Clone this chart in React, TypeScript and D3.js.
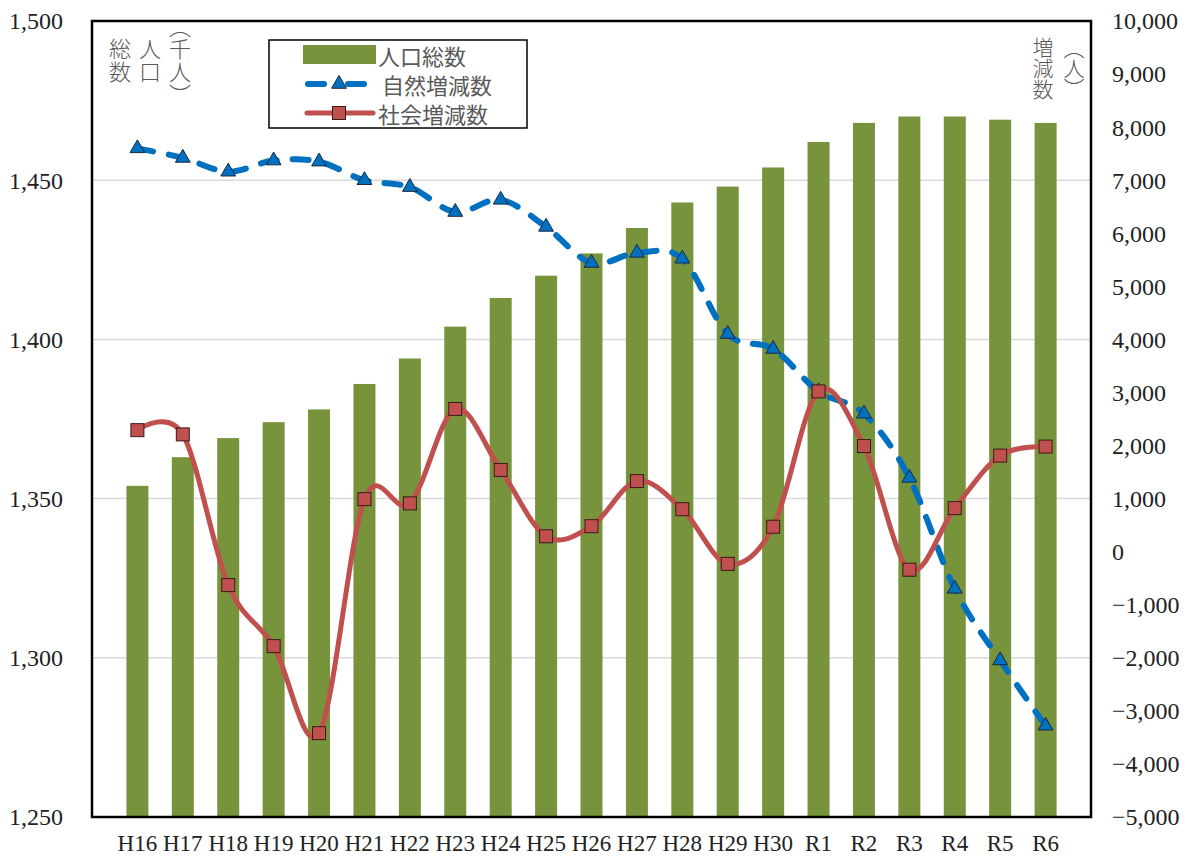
import React, { useRef, useEffect } from 'react';
import * as d3 from 'd3';

const categories = ['H16', 'H17', 'H18', 'H19', 'H20', 'H21', 'H22', 'H23', 'H24', 'H25', 'H26', 'H27', 'H28', 'H29', 'H30', 'R1', 'R2', 'R3', 'R4', 'R5', 'R6'];
// 人口総数 (千人)
const population = [1354, 1363, 1369, 1374, 1378, 1386, 1394, 1404, 1413, 1420, 1427, 1435, 1443, 1448, 1454, 1462, 1468, 1470, 1470, 1469, 1468];
// 自然増減数 (人)
const naturalChange = [7600, 7420, 7160, 7370, 7350, 7000, 6870, 6400, 6630, 6120, 5440, 5630, 5520, 4100, 3820, 3020, 2600, 1390, -700, -2050, -3280];
// 社会増減数 (人)
const socialChange = [2290, 2210, -630, -1780, -3420, 990, 910, 2690, 1540, 290, 480, 1330, 800, -230, 470, 3020, 1990, -340, 820, 1810, 1980];

const leftTicks = [1250, 1300, 1350, 1400, 1450, 1500];
const rightTicks = [-5000, -4000, -3000, -2000, -1000, 0, 1000, 2000, 3000, 4000, 5000, 6000, 7000, 8000, 9000, 10000];

const GREEN = '#77933c';
const BLUE = '#0070c0';
const RED = '#c0504d';
const GRAY_TEXT = '#595959';
const SERIF = '"Liberation Serif", "Times New Roman", serif';
const JP = '"Noto Sans CJK JP", "Noto Sans", sans-serif';

export default function App() {
    const svgRef = useRef<SVGSVGElement>(null);

    useEffect(() => {
        if (!svgRef.current) return;

        const width = 1200;
        const height = 864;
        const plot = { left: 92, right: 1091, top: 21, bottom: 817 };

        const svg = d3.select(svgRef.current)
            .attr('width', width)
            .attr('height', height)
            .attr('viewBox', `0 0 ${width} ${height}`);

        svg.selectAll('*').remove();

        svg.append('rect').attr('width', width).attr('height', height).attr('fill', 'white');

        const x = d3.scalePoint<string>()
            .domain(categories)
            .range([plot.left, plot.right])
            .padding(1);

        const yLeft = d3.scaleLinear().domain([1250, 1500]).range([plot.bottom, plot.top]);
        const yRight = d3.scaleLinear().domain([-5000, 10000]).range([plot.bottom, plot.top]);

        // gridlines
        svg.append('g')
            .selectAll('line')
            .data(leftTicks.slice(1, -1))
            .join('line')
            .attr('x1', plot.left)
            .attr('x2', plot.right)
            .attr('y1', d => yLeft(d))
            .attr('y2', d => yLeft(d))
            .attr('stroke', '#d9d9d9')
            .attr('stroke-width', 1.5);

        // bars
        const barW = 22;
        svg.append('g')
            .selectAll('rect')
            .data(population)
            .join('rect')
            .attr('x', (_, i) => (x(categories[i]) as number) - barW / 2)
            .attr('y', d => yLeft(d))
            .attr('width', barW)
            .attr('height', d => plot.bottom - yLeft(d))
            .attr('fill', GREEN);

        const line = d3.line<number>()
            .x((_, i) => x(categories[i]) as number)
            .y(d => yRight(d))
            .curve(d3.curveCardinal.tension(0));

        // 自然増減数
        svg.append('path')
            .datum(naturalChange)
            .attr('fill', 'none')
            .attr('stroke', BLUE)
            .attr('stroke-width', 6)
            .attr('stroke-linecap', 'round')
            .attr('stroke-dasharray', '16 16')
            .attr('d', line);

        const tri = d3.symbol().type(d3.symbolTriangle).size(95);
        svg.append('g')
            .selectAll('path')
            .data(naturalChange)
            .join('path')
            .attr('transform', (d, i) => `translate(${x(categories[i])},${yRight(d)})`)
            .attr('d', tri as any)
            .attr('fill', BLUE)
            .attr('stroke', '#1a2a40')
            .attr('stroke-width', 1);

        // 社会増減数
        svg.append('path')
            .datum(socialChange)
            .attr('fill', 'none')
            .attr('stroke', RED)
            .attr('stroke-width', 5)
            .attr('stroke-linecap', 'round')
            .attr('d', line);

        const sq = 13;
        svg.append('g')
            .selectAll('rect')
            .data(socialChange)
            .join('rect')
            .attr('x', (_, i) => (x(categories[i]) as number) - sq / 2)
            .attr('y', d => yRight(d) - sq / 2)
            .attr('width', sq)
            .attr('height', sq)
            .attr('fill', RED)
            .attr('stroke', '#3a1a1a')
            .attr('stroke-width', 1);

        // plot frame
        svg.append('rect')
            .attr('x', plot.left)
            .attr('y', plot.top)
            .attr('width', plot.right - plot.left)
            .attr('height', plot.bottom - plot.top)
            .attr('fill', 'none')
            .attr('stroke', 'black')
            .attr('stroke-width', 2.5);

        // axis labels
        const fmt = d3.format(',');
        svg.append('g')
            .selectAll('text')
            .data(leftTicks)
            .join('text')
            .attr('x', 63)
            .attr('y', d => yLeft(d))
            .attr('dy', '0.35em')
            .attr('text-anchor', 'end')
            .attr('font-family', SERIF)
            .attr('font-size', 24)
            .attr('fill', '#222')
            .text(d => fmt(d));

        svg.append('g')
            .selectAll('text')
            .data(rightTicks)
            .join('text')
            .attr('x', 1112)
            .attr('y', d => yRight(d))
            .attr('dy', '0.35em')
            .attr('text-anchor', 'start')
            .attr('font-family', SERIF)
            .attr('font-size', 24)
            .attr('fill', '#222')
            .text(d => fmt(d));

        svg.append('g')
            .selectAll('text')
            .data(categories)
            .join('text')
            .attr('x', d => x(d) as number)
            .attr('y', 843)
            .attr('dy', '0.35em')
            .attr('text-anchor', 'middle')
            .attr('font-family', SERIF)
            .attr('font-size', 23)
            .attr('fill', '#222')
            .text(d => d);

        // vertical axis titles
        const vtext = (cx: number, top: number, size: number, spacing: number, t: string) => {
            svg.append('text')
                .attr('x', cx)
                .attr('y', top)
                .attr('font-family', JP)
                .attr('font-size', size)
                .attr('font-weight', 300)
                .attr('fill', GRAY_TEXT)
                .style('writing-mode', 'vertical-rl')
                .style('font-feature-settings', '"vpal"')
                .style('letter-spacing', `${spacing}px`)
                .text(t);
        };
        vtext(120, 38, 22, 1, '総数');
        vtext(150, 38, 22, 1, '人口');
        vtext(180, 26, 22, 1, '（千人）');
        vtext(1043, 37, 21, 0, '増減数');
        vtext(1074, 47, 21, 0, '（人）');

        // legend
        const lg = svg.append('g');
        lg.append('rect')
            .attr('x', 269).attr('y', 40)
            .attr('width', 258).attr('height', 88)
            .attr('fill', 'white')
            .attr('stroke', 'black')
            .attr('stroke-width', 1.5);
        lg.append('rect')
            .attr('x', 303).attr('y', 45)
            .attr('width', 73).attr('height', 19)
            .attr('fill', GREEN);
        lg.append('line')
            .attr('x1', 308).attr('x2', 364).attr('y1', 84).attr('y2', 84)
            .attr('stroke', BLUE).attr('stroke-width', 6)
            .attr('stroke-linecap', 'round')
            .attr('stroke-dasharray', '16 24');
        lg.append('path')
            .attr('transform', 'translate(339,84)')
            .attr('d', tri as any)
            .attr('fill', BLUE)
            .attr('stroke', '#1a2a40')
            .attr('stroke-width', 1);
        lg.append('line')
            .attr('x1', 307).attr('x2', 373).attr('y1', 113).attr('y2', 113)
            .attr('stroke', RED).attr('stroke-width', 5)
            .attr('stroke-linecap', 'round');
        lg.append('rect')
            .attr('x', 339 - sq / 2).attr('y', 113 - sq / 2)
            .attr('width', sq).attr('height', sq)
            .attr('fill', RED)
            .attr('stroke', '#3a1a1a')
            .attr('stroke-width', 1);

        const legendLabels = ['人口総数', '自然増減数', '社会増減数'];
        const legendX = [378, 382, 378];
        const legendY = [55, 84, 113];
        legendLabels.forEach((t, i) => {
            lg.append('text')
                .attr('x', legendX[i])
                .attr('y', legendY[i])
                .attr('dominant-baseline', 'central')
                .attr('font-family', JP)
                .attr('font-size', 22)
                .attr('fill', GRAY_TEXT)
                .text(t);
        });
    }, []);

    return (
        <svg
            ref={svgRef}
            style={{ position: 'absolute', left: 0, top: 0, display: 'block' }}
        />
    );
}
